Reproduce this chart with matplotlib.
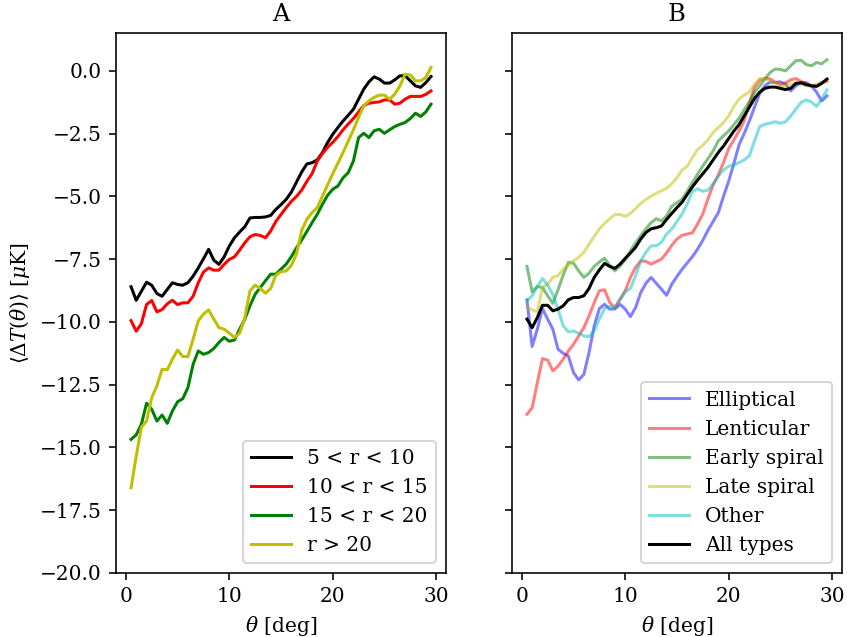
import numpy as np
import matplotlib
matplotlib.use('Agg')
import matplotlib.pyplot as plt

plt.rcParams['font.family'] = 'serif'
plt.rcParams['font.serif'] = ['DejaVu Serif']
plt.rcParams['mathtext.fontset'] = 'dejavuserif'

# angular bins (deg)
theta = np.arange(1, 60) * 0.5

# panel A: split by radius
r5_10 = [-8.6, -9.14, -8.78, -8.42, -8.54, -8.87, -8.98, -8.71, -8.44, -8.51,
         -8.54, -8.44, -8.18, -7.85, -7.49, -7.11, -7.54, -7.71, -7.41, -6.98,
         -6.65, -6.42, -6.21, -5.86, -5.84, -5.84, -5.82, -5.76, -5.52, -5.33,
         -5.12, -4.83, -4.43, -4.03, -3.71, -3.66, -3.55, -3.26, -2.86, -2.53,
         -2.26, -2.0, -1.77, -1.53, -1.13, -0.73, -0.44, -0.24, -0.33, -0.49,
         -0.49, -0.36, -0.2, -0.2, -0.4, -0.6, -0.66, -0.47, -0.23]
r10_15 = [-9.95, -10.37, -10.07, -9.31, -9.15, -9.6, -9.51, -9.28, -9.14, -9.31,
          -9.24, -9.24, -8.98, -8.44, -8.02, -7.85, -7.94, -7.94, -7.71, -7.51,
          -7.41, -7.14, -6.85, -6.61, -6.52, -6.56, -6.65, -6.38, -6.0, -5.72,
          -5.45, -5.2, -5.0, -4.75, -4.4, -4.1, -3.6, -3.3, -3.05, -2.85,
          -2.62, -2.35, -2.12, -1.9, -1.64, -1.38, -1.29, -1.26, -1.24, -1.16,
          -1.16, -1.33, -1.29, -1.13, -1.02, -1.02, -1.02, -0.94, -0.8]
r15_20 = [-14.68, -14.5, -14.08, -13.24, -13.48, -13.95, -13.71, -14.04, -13.55, -13.18,
          -13.06, -12.62, -11.69, -11.16, -11.29, -11.22, -11.06, -10.82, -10.62, -10.77,
          -10.72, -10.29, -9.89, -9.36, -8.9, -8.63, -8.36, -8.1, -8.1, -7.9,
          -7.7, -7.4, -7.05, -6.74, -6.4, -6.05, -5.72, -5.32, -4.96, -4.72,
          -4.59, -4.26, -4.06, -3.59, -2.66, -2.49, -2.66, -2.39, -2.33, -2.49,
          -2.35, -2.22, -2.13, -2.06, -1.9, -1.69, -1.82, -1.64, -1.33]
r20 = [-16.61, -15.35, -14.2, -13.95, -13.02, -12.55, -11.89, -11.91, -11.49, -11.12,
       -11.38, -11.38, -10.69, -9.96, -9.69, -9.52, -9.89, -10.23, -10.29, -10.45,
       -10.62, -10.45, -9.83, -8.76, -8.54, -8.67, -8.86, -8.67, -8.14, -8.0,
       -7.97, -7.75, -7.3, -6.35, -5.91, -5.65, -5.45, -5.0, -4.55, -4.1,
       -3.68, -3.25, -2.8, -2.35, -1.85, -1.39, -1.2, -1.06, -0.97, -0.97,
       -1.13, -0.93, -0.6, -0.13, -0.17, -0.4, -0.4, -0.27, 0.13]

# panel B: split by morphology
elliptical = [-9.12, -10.98, -10.29, -9.47, -9.89, -10.29, -11.09, -11.25, -11.36, -12.02,
              -12.31, -12.09, -11.22, -10.16, -9.47, -9.3, -9.49, -9.49, -9.3, -9.49,
              -9.79, -9.43, -8.83, -8.46, -8.23, -8.46, -8.7, -8.94, -8.5, -8.19,
              -7.9, -7.65, -7.4, -7.1, -6.75, -6.35, -6.0, -5.65, -5.0, -4.4,
              -3.7, -2.95, -2.5, -2.0, -1.45, -0.9, -0.6, -0.45, -0.47, -0.44,
              -0.53, -0.8, -0.6, -0.47, -0.47, -0.6, -0.85, -1.2, -1.0]
lenticular = [-13.68, -13.42, -12.42, -11.46, -11.52, -11.95, -11.76, -11.49, -11.16, -10.89,
              -10.56, -10.23, -9.76, -9.23, -8.76, -8.72, -9.23, -9.43, -9.1, -8.76,
              -8.23, -7.83, -7.57, -7.59, -7.7, -7.6, -7.5, -7.25, -6.95, -6.7,
              -6.55, -6.5, -6.45, -6.1, -5.7, -5.1, -4.55, -4.15, -3.65, -3.1,
              -2.75, -2.4, -2.0, -1.3, -0.65, -0.38, -0.3, -0.32, -0.45, -0.55,
              -0.49, -0.36, -0.31, -0.42, -0.53, -0.6, -0.6, -0.47, -0.42]
early_spiral = [-7.79, -8.8, -8.59, -8.63, -8.96, -9.26, -8.72, -8.14, -7.63, -7.66,
                -7.97, -8.23, -8.06, -7.79, -7.61, -7.47, -7.74, -7.97, -7.77, -7.53,
                -7.17, -6.86, -6.57, -6.29, -6.05, -5.89, -5.98, -5.78, -5.39, -5.25,
                -5.12, -4.79, -4.45, -4.12, -3.79, -3.5, -3.19, -2.79, -2.59, -2.4,
                -2.15, -1.9, -1.56, -1.24, -0.86, -0.6, -0.33, -0.07, 0.07, 0.05,
                0.0, 0.2, 0.4, 0.42, 0.25, 0.2, 0.33, 0.28, 0.44]
late_spiral = [-9.43, -9.52, -9.6, -8.63, -8.5, -8.23, -8.16, -7.9, -7.74, -7.57,
               -7.43, -7.23, -6.9, -6.6, -6.3, -6.08, -5.89, -5.72, -5.72, -5.8,
               -5.68, -5.49, -5.28, -5.12, -4.99, -4.88, -4.78, -4.68, -4.5, -4.25,
               -3.95, -3.8, -3.45, -3.13, -2.97, -2.75, -2.46, -2.26, -2.06, -1.8,
               -1.42, -1.13, -0.97, -0.84, -0.53, -0.31, -0.33, -0.4, -0.47, -0.6,
               -0.6, -0.53, -0.49, -0.53, -0.6, -0.6, -0.53, -0.47, -0.36]
other = [-9.16, -8.96, -8.59, -8.27, -8.54, -8.9, -9.49, -10.16, -10.4, -10.36,
         -10.45, -10.56, -10.59, -10.36, -9.89, -9.47, -9.39, -9.43, -9.12, -8.8,
         -8.67, -8.16, -7.57, -7.23, -6.97, -6.97, -6.83, -6.5, -6.3, -6.0,
         -5.7, -5.3, -4.8, -4.7, -4.8, -4.75, -4.5, -4.2, -3.95, -3.8,
         -3.75, -3.66, -3.55, -3.39, -2.79, -2.22, -2.13, -2.09, -2.03, -2.09,
         -2.03, -1.8, -1.53, -1.26, -1.16, -1.24, -1.42, -1.13, -0.76]
all_types = [-9.89, -10.23, -9.83, -9.34, -9.34, -9.56, -9.49, -9.36, -9.12, -9.03,
             -9.03, -8.96, -8.67, -8.23, -7.93, -7.67, -7.79, -7.87, -7.7, -7.47,
             -7.26, -7.03, -6.7, -6.44, -6.29, -6.25, -6.18, -5.92, -5.68, -5.45,
             -5.23, -4.92, -4.62, -4.35, -4.1, -3.85, -3.55, -3.25, -3.0, -2.7,
             -2.4, -2.15, -1.8, -1.45, -1.1, -0.85, -0.7, -0.65, -0.65, -0.7,
             -0.75, -0.7, -0.5, -0.48, -0.55, -0.6, -0.62, -0.5, -0.33]

dpi = 145
fig, (ax1, ax2) = plt.subplots(1, 2, sharey=True, figsize=(847 / dpi, 637 / dpi), dpi=dpi)
fig.subplots_adjust(left=0.137, right=0.994, bottom=0.1005, top=0.948, wspace=0.2)

ax1.plot(theta, r5_10, 'k', label='5 < r < 10')
ax1.plot(theta, r10_15, 'r', label='10 < r < 15')
ax1.plot(theta, r15_20, 'g', label='15 < r < 20')
ax1.plot(theta, r20, 'y', label='r > 20')
ax1.set_title('A')
ax1.set_xlabel(r'$\theta$ [deg]')
ax1.set_ylabel(r'$\langle \Delta T(\theta) \rangle$ [$\mu$K]')
ax1.legend(loc='lower right')

ax2.plot(theta, elliptical, 'b', alpha=0.5, label='Elliptical')
ax2.plot(theta, lenticular, 'r', alpha=0.5, label='Lenticular')
ax2.plot(theta, early_spiral, 'g', alpha=0.5, label='Early spiral')
ax2.plot(theta, late_spiral, 'y', alpha=0.5, label='Late spiral')
ax2.plot(theta, other, 'c', alpha=0.5, label='Other')
ax2.plot(theta, all_types, 'k', label='All types')
ax2.set_title('B')
ax2.set_xlabel(r'$\theta$ [deg]')
ax2.legend(loc='lower right')

ax1.set_ylim(-20, 1.5)

plt.savefig('out.png', dpi=dpi)
